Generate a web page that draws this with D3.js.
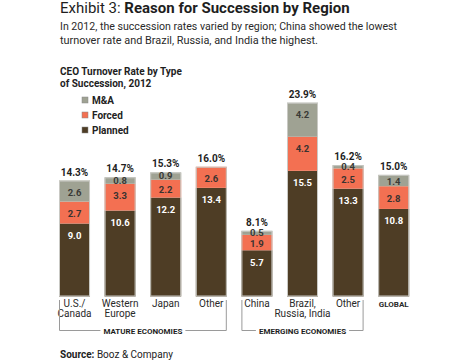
<!DOCTYPE html>
<html>
<head>
<meta charset="utf-8">
<script src="https://cdn.jsdelivr.net/npm/d3@7"></script>
<style>
  body { margin: 0; background: #fff; }
  svg { display: block; font-family: Roboto, "DejaVu Sans", sans-serif; }
</style>
</head>
<body>
<div id="chart"></div>
<script>
// данные
const categories = ['us', 'weu', 'jp', 'oth1', 'cn', 'bri', 'oth2', 'global'];
const catLabels = [['U.S./', 'Canada'], ['Western', 'Europe'], ['Japan'], ['Other'],
                   ['China'], ['Brazil,', 'Russia, India'], ['Other'], ['GLOBAL']];
const planned = [9.0, 10.6, 12.2, 13.4, 5.7, 15.5, 13.3, 10.8];
const forced  = [2.7, 3.3, 2.2, 2.6, 1.9, 4.2, 2.5, 2.8];
const mna     = [2.6, 0.8, 0.9, 0, 0.5, 4.2, 0.4, 1.4];
const totals  = ['14.3%', '14.7%', '15.3%', '16.0%', '8.1%', '23.9%', '16.2%', '15.0%'];
const seriesNames = ['Planned', 'Forced', 'M&A'];
const groups = [
  { label: 'MATURE ECONOMIES', from: 'us', to: 'oth1' },
  { label: 'EMERGING ECONOMIES', from: 'cn', to: 'oth2' }
];

const colors = { 'Planned': '#4e3d25', 'Forced': '#f37052', 'M&A': '#9fa293' };
const labelColors = { 'Planned': '#fff', 'Forced': '#3a3330', 'M&A': '#3a3a36' };

const width = 468, height = 361;
const svg = d3.select('#chart').append('svg')
  .attr('width', width).attr('height', height);

// подгонка ширины текста
function fit(sel, w) {
  const len = sel.node().getComputedTextLength();
  if (len > w) sel.attr('textLength', w).attr('lengthAdjust', 'spacingAndGlyphs');
  return sel;
}

// заголовок
const title = svg.append('text').attr('x', 60).attr('y', 13)
  .attr('font-size', 15).attr('fill', '#1e1e1e');
title.append('tspan').text('Exhibit 3: ');
title.append('tspan').attr('font-weight', 'bold').text('Reason for Succession by Region');
fit(title, 292);

const sub = ['In 2012, the succession rates varied by region; China showed the lowest',
             'turnover rate and Brazil, Russia, and India the highest.'];
const subW = [337, 258];
sub.forEach((s, i) => {
  const t = svg.append('text').attr('x', 60).attr('y', 30 + i * 14)
    .attr('font-size', 11).attr('fill', '#2a2a2a').text(s);
  fit(t, subW[i]);
});

// подзаголовок графика
['CEO Turnover Rate by Type', 'of Succession, 2012'].forEach((s, i) => {
  const t = svg.append('text').attr('x', 60).attr('y', 75 + i * 11.5)
    .attr('font-size', 10).attr('font-weight', 'bold').attr('fill', '#1e1e1e').text(s);
  fit(t, i === 0 ? 128 : 98);
});

// легенда
const legendItems = ['M&A', 'Forced', 'Planned'];
const legend = svg.append('g');
legendItems.forEach((name, i) => {
  const y = 104 + i * 15;
  legend.append('rect').attr('x', 82).attr('y', y - 7).attr('width', 6).attr('height', 6)
    .attr('fill', colors[name]).attr('stroke', '#888').attr('stroke-width', 0.5);
  legend.append('text').attr('x', 92).attr('y', y).attr('font-size', 10)
    .attr('font-weight', 'bold').attr('fill', '#222').text(name);
});

// шкалы
const x = d3.scaleBand().domain(categories)
  .range([59, 59 + 7 * 45.6 + 31]).paddingInner(0.32).paddingOuter(0);
const y = d3.scaleLinear().domain([0, 24]).range([296.5, 101.9]);

const rows = categories.map((c, i) => ({
  id: c, 'Planned': planned[i], 'Forced': forced[i], 'M&A': mna[i], total: totals[i]
}));
const stacked = d3.stack().keys(seriesNames)(rows);

const barsG = svg.append('g');
stacked.forEach(layer => {
  barsG.selectAll(null).data(layer.filter(d => d[1] - d[0] > 0)).enter().append('rect')
    .attr('x', d => x(d.data.id))
    .attr('y', d => y(d[1]))
    .attr('width', x.bandwidth())
    .attr('height', d => y(d[0]) - y(d[1]))
    .attr('fill', colors[layer.key]);
});

// контур столбцов
barsG.selectAll('.outline').data(rows).enter().append('rect')
  .attr('class', 'outline')
  .attr('x', d => x(d.id) + 0.5)
  .attr('y', d => y(d.Planned + d.Forced + d['M&A']) + 0.5)
  .attr('width', x.bandwidth() - 1)
  .attr('height', d => y(0) - y(d.Planned + d.Forced + d['M&A']) - 1)
  .attr('fill', 'none').attr('stroke', '#c9c9c4').attr('stroke-width', 1);

// подписи сегментов
function labelOffset(h) {
  if (h >= 26) return 12;
  if (h > 10) return h / 2 + 1.5;
  return Math.max(h / 2, 2);
}
stacked.forEach(layer => {
  barsG.selectAll(null).data(layer.filter(d => d[1] - d[0] > 0)).enter().append('text')
    .attr('x', d => x(d.data.id) + x.bandwidth() / 2)
    .attr('y', d => y(d[1]) + labelOffset(y(d[0]) - y(d[1])) + 3.3)
    .attr('text-anchor', 'middle')
    .attr('font-size', 9.5).attr('font-weight', 'bold')
    .attr('fill', labelColors[layer.key])
    .text(d => d.data[layer.key].toFixed(1));
});

// итоги
barsG.selectAll('.total').data(rows).enter().append('text')
  .attr('class', 'total')
  .attr('x', d => x(d.id) + x.bandwidth() / 2)
  .attr('y', d => y(d.Planned + d.Forced + d['M&A']) - 5)
  .attr('text-anchor', 'middle').attr('font-size', 10).attr('font-weight', 'bold')
  .attr('fill', '#1e1e1e').text(d => d.total);

// подписи категорий
categories.forEach((c, i) => {
  const isGlobal = c === 'global';
  const t = svg.append('text').attr('text-anchor', 'middle')
    .attr('font-size', isGlobal ? 8 : 10)
    .attr('font-weight', isGlobal ? 'bold' : 'normal')
    .attr('fill', '#2a2a2a');
  catLabels[i].forEach((line, j) => {
    t.append('tspan').attr('x', x(c) + x.bandwidth() / 2).attr('y', 307 + j * 10).text(line);
  });
});

// скобки групп
groups.forEach(g => {
  const x0 = x(g.from), x1 = x(g.to) + x.bandwidth();
  const cx = (x0 + x1) / 2, ly = 330.5;
  const t = svg.append('text').attr('x', cx).attr('y', ly + 3).attr('text-anchor', 'middle')
    .attr('font-size', 8).attr('font-weight', 'bold').attr('fill', '#1e1e1e').text(g.label);
  const tw = t.node().getComputedTextLength();
  const path = d3.path();
  path.moveTo(x0 + 0.5, 300);
  path.lineTo(x0 + 0.5, ly);
  path.lineTo(cx - tw / 2 - 3, ly);
  path.moveTo(cx + tw / 2 + 3, ly);
  path.lineTo(x1 - 0.5, ly);
  path.lineTo(x1 - 0.5, 300);
  svg.append('path').attr('d', path.toString()).attr('fill', 'none')
    .attr('stroke', '#9a9a9a').attr('stroke-width', 1);
});

// источник
const src = svg.append('text').attr('x', 60).attr('y', 358).attr('font-size', 10).attr('fill', '#222');
src.append('tspan').attr('font-weight', 'bold').text('Source: ');
src.append('tspan').text('Booz & Company');
</script>
</body>
</html>
